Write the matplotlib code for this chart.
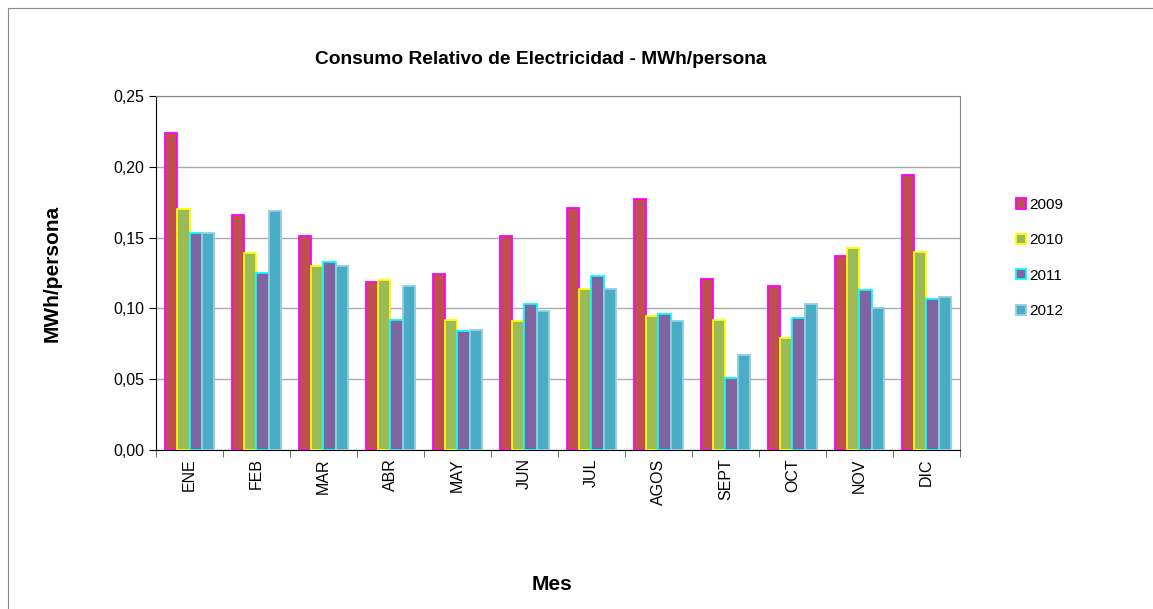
import matplotlib.pyplot as plt
import numpy as np
from matplotlib.patches import Rectangle

plt.rcParams['font.family'] = ['Liberation Sans', 'DejaVu Sans']

meses = ['ENE', 'FEB', 'MAR', 'ABR', 'MAY', 'JUN', 'JUL', 'AGOS', 'SEPT', 'OCT', 'NOV', 'DIC']
v2009 = [0.224, 0.166, 0.151, 0.119, 0.124, 0.151, 0.171, 0.177, 0.121, 0.116, 0.137, 0.194]
v2010 = [0.170, 0.139, 0.130, 0.120, 0.092, 0.091, 0.114, 0.095, 0.092, 0.079, 0.143, 0.140]
v2011 = [0.153, 0.125, 0.133, 0.092, 0.084, 0.103, 0.123, 0.096, 0.051, 0.093, 0.113, 0.107]
v2012 = [0.153, 0.169, 0.130, 0.116, 0.085, 0.098, 0.114, 0.091, 0.067, 0.103, 0.100, 0.108]
anios = ['2009', '2010', '2011', '2012']

series = [v2009, v2010, v2011, v2012]
caras = ['#C0504D', '#9BBB59', '#8064A2', '#4BACC6']
bordes = ['#FF00FF', '#FFFF00', '#00FFFF', '#8FD0E0']

fig = plt.figure(figsize=(11.53, 6.09), dpi=100)
fig.patches.append(Rectangle((8 / 1153, -0.1), 1.2, 1 - 8 / 609 + 0.1,
                             transform=fig.transFigure, fill=False,
                             edgecolor='#888888', linewidth=0.8))
ax = fig.add_axes([0.1353, 0.261, 0.6973, 0.5814])

x = np.arange(len(meses))
w = 0.18
for i in range(4):
    ax.bar(x - 1.5 * w + i * w, series[i], width=w, color=caras[i],
           edgecolor=bordes[i], linewidth=1.3, label=anios[i], zorder=3)

ax.set_xlim(-0.5, len(meses) - 0.5)
ax.set_ylim(0, 0.25)
ticks = np.arange(0, 0.251, 0.05)
ax.set_yticks(ticks)
ax.set_yticklabels([('%.2f' % t).replace('.', ',') for t in ticks])
ax.set_xticks(x)
ax.set_xticklabels(meses, rotation=90)
ax.set_xticks(np.arange(-0.5, len(meses), 1), minor=True)
ax.tick_params(axis='x', which='major', length=0, pad=6, labelsize=11.5)
ax.tick_params(axis='x', which='minor', length=5, color='#555555')
ax.tick_params(axis='y', length=5, labelsize=11.5)
ax.grid(axis='y', color='#AAAAAA', linewidth=1, zorder=0)
for s in ['top', 'right']:
    ax.spines[s].set_color('#888888')
ax.spines['left'].set_color('black')
ax.spines['bottom'].set_color('black')

ax.set_title('Consumo Relativo de Electricidad - MWh/persona', fontsize=13.8,
             fontweight='bold', pad=23, x=0.478)
ax.set_ylabel('MWh/persona', fontsize=15, fontweight='bold', labelpad=37)
ax.set_xlabel('Mes', fontsize=15, fontweight='bold', labelpad=51, x=0.4925)

ax.legend(loc='upper left', bbox_to_anchor=(1.053, 0.751), frameon=False,
          fontsize=11, handlelength=0.65, handleheight=0.65, handletextpad=0.2,
          labelspacing=1.4)

plt.savefig('out.png', dpi=100)
